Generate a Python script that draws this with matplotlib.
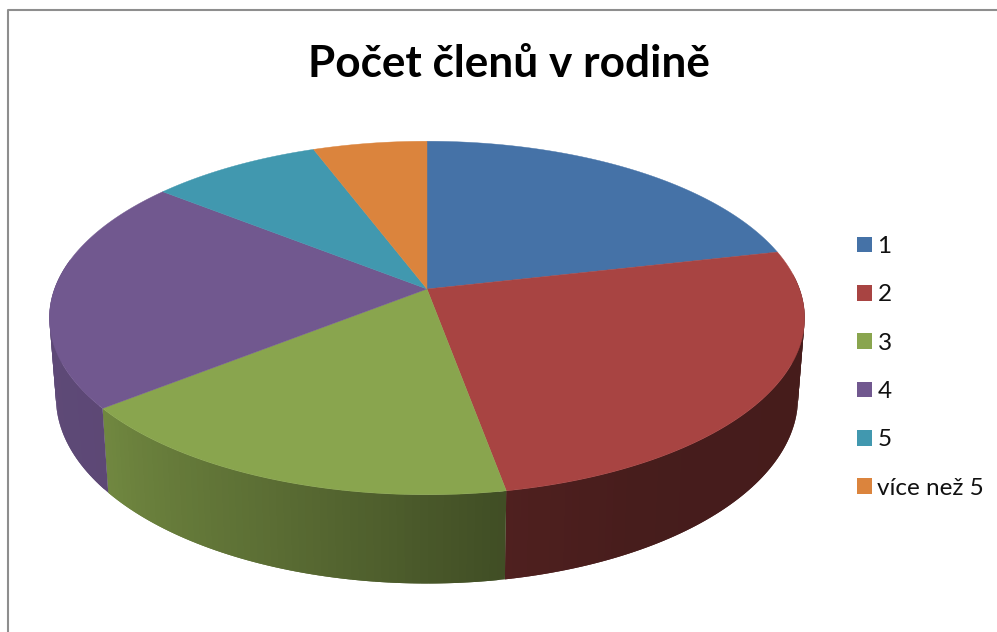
import numpy as np
import matplotlib
matplotlib.use("Agg")
import matplotlib.pyplot as plt
from matplotlib.patches import Patch, Polygon

plt.rcParams['font.family'] = ['Lato', 'DejaVu Sans']

# data
categories = ['1', '2', '3', '4', '5', 'více než 5']
values = [15, 18, 12, 15, 6, 4]
colors = ['#4572A7', '#A84442', '#89A54E', '#71588F', '#4198AF', '#DB843D']
title = 'Počet členů v rodině'

# side shading against angle round the pie (degrees clockwise from top)
shade_angle = [77, 150, 170, 200, 231, 300]
shade_factor = [0.41, 0.42, 0.47, 0.66, 0.82, 0.85]

# perspective of the pie, in pixels
cx = 427
persp = 0.164
top_y, top_a, top_b = 289, 372.5, 172
base_y, base_a, base_b = 367, 366, 181


def project(theta, y0, a, b):
    u = np.sin(theta)
    v = np.cos(theta)
    s = 1 / (1 + persp * v)
    return cx + a * u * s, y0 - b * v * s


fig = plt.figure(figsize=(9.97, 6.32), dpi=100)
ax = fig.add_axes([0, 0, 1, 1])
ax.set_xlim(0, 997)
ax.set_ylim(632, 0)
ax.axis('off')

# chart frame, only left and top are in the crop
ax.plot([8, 8, 997], [632, 10, 10], color='#8E8E8E', lw=1.5, zorder=1)

edges = np.radians(np.concatenate([[0], np.cumsum(values)]) / np.sum(values) * 360)

# sides first
for i, col in enumerate(colors):
    rgb = np.array(matplotlib.colors.to_rgb(col))
    t0, t1 = edges[i], edges[i + 1]
    # only the front part can be seen
    t0 = max(t0, np.radians(85))
    t1 = min(t1, np.radians(280))
    if t1 <= t0:
        continue
    steps = np.linspace(t0, t1, max(2, int(np.degrees(t1 - t0)) + 1))
    for k in range(len(steps) - 1):
        a = steps[k]
        # overlap into the next step so no seams show
        b = steps[min(k + 2, len(steps) - 1)]
        x1, y1 = project(np.linspace(a, b, 5), top_y, top_a, top_b)
        x2, y2 = project(np.linspace(b, a, 5), base_y, base_a, base_b)
        f = np.interp(np.degrees((steps[k] + steps[k + 1]) / 2), shade_angle, shade_factor)
        ax.add_patch(Polygon(np.column_stack([np.r_[x1, x2], np.r_[y1, y2]]),
                             closed=True, facecolor=rgb * f, edgecolor='none', zorder=2))

# top faces
for i, col in enumerate(colors):
    t = np.linspace(edges[i], edges[i + 1], 200)
    x, y = project(t, top_y, top_a, top_b)
    ax.add_patch(Polygon(np.column_stack([np.r_[cx, x], np.r_[top_y, y]]),
                         closed=True, facecolor=col, edgecolor=col, lw=0.3, zorder=3))

ax.text(509, 77, title, fontsize=31.8, fontweight='bold', ha='center', va='baseline', color='black')

handles = [Patch(facecolor=c, edgecolor=c, lw=0) for c in colors]
ax.legend(handles, categories, loc='upper left', bbox_to_anchor=(0.8596, 0.6266),
          frameon=False, fontsize=17.5, handlelength=0.62, handleheight=0.62,
          handletextpad=0.22, labelspacing=1.126, borderpad=0, borderaxespad=0,
          labelcolor='#111111')

fig.savefig('out.png', dpi=100)
